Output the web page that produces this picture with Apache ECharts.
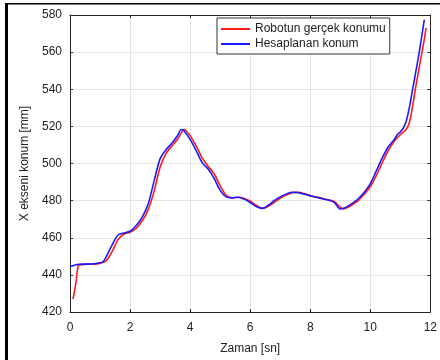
<!DOCTYPE html>
<html>
<head>
<meta charset="utf-8">
<script src="https://cdn.jsdelivr.net/npm/echarts@6/dist/echarts.min.js"></script>
<style>
html,body{margin:0;padding:0;background:#fff;}
#c{width:440px;height:360px;}
</style>
</head>
<body>
<div id="c"></div>
<script>
// Series names
var seriesNames = ['Robotun gerçek konumu', 'Hesaplanan konum'];
// Axis ticks
var xTicks = [0, 2, 4, 6, 8, 10, 12];
var yTicks = [420, 440, 460, 480, 500, 520, 540, 560, 580];
var xTitle = 'Zaman [sn]';
var yTitle = 'X ekseni konum [mm]';

// Robotun gerçek konumu (red): time [s]
var redTime = [0.1,0.2,0.28,0.4,0.6,0.8,1.0,1.2,1.4,1.6,1.8,2.0,2.2,2.4,2.6,2.8,3.0,3.2,3.4,3.6,3.8,3.9,4.0,4.2,4.4,4.6,4.8,5.0,5.2,5.4,5.6,5.8,6.0,6.2,6.4,6.6,6.8,7.0,7.2,7.4,7.6,7.8,8.0,8.2,8.4,8.6,8.8,9.0,9.1,9.2,9.4,9.6,9.8,10.0,10.2,10.4,10.6,10.8,11.0,11.2,11.3,11.4,11.5,11.6,11.7,11.8,11.86];
// Robotun gerçek konumu (red): position [mm]
var redPos = [427,436,445,445.5,445.8,445.8,446.2,447.5,452.5,459,462,463,465,469,475,485,498,505.5,509.5,513.5,518.3,517,515,509.5,503,498.5,494.5,488,483,481.5,481.8,481.2,479.8,477.5,475.8,476.8,479,481.3,483,484.3,484.5,483.8,482.8,482,481.2,480.5,479.5,476.5,475.5,476,477.8,480,483.5,487.5,493.5,500.5,507,512,515.5,518.5,522,530,540,549,558,567,573];

// Hesaplanan konum (blue): time [s]
var blueTime = [0.0,0.2,0.4,0.6,0.8,1.0,1.1,1.2,1.4,1.6,1.8,2.0,2.2,2.4,2.6,2.8,3.0,3.2,3.4,3.6,3.7,3.8,4.0,4.2,4.4,4.6,4.8,5.0,5.2,5.4,5.6,5.8,6.0,6.2,6.4,6.6,6.8,7.0,7.2,7.4,7.6,7.8,8.0,8.2,8.4,8.6,8.8,9.0,9.2,9.4,9.6,9.8,10.0,10.2,10.4,10.6,10.8,10.9,11.0,11.1,11.2,11.3,11.4,11.5,11.6,11.7,11.8];
// Hesaplanan konum (blue): position [mm]
var bluePos = [444.5,445.5,445.8,445.8,446,446.5,447,449.5,456,461.5,462.5,463.5,466.5,471,478,490.5,502.5,507.5,511,515.5,518.3,517.5,513,507,500.5,497,492,485.5,482,481.5,481.8,480.8,479,476.8,475.8,477.5,480,482,483.5,484.5,484.3,483.5,482.5,481.8,481,480.3,479,475.5,476.5,478.5,481,484.5,489,496,503,509,513,515.5,517,519,523,530,539,548,557,567,577.5];

function pairs(t, v) {
  var out = [];
  for (var i = 0; i < t.length; i++) out.push([t[i], v[i]]);
  return out;
}

var chart = echarts.init(document.getElementById('c'), null, {renderer: 'canvas'});
var FONT = '"Liberation Sans", Arial, sans-serif';
var axisCol = '#262626';
var gridCol = '#e3e3e3';

function xAx(pos, showLab) {
  return {
    type: 'value', position: pos, min: xTicks[0], max: xTicks[xTicks.length - 1], interval: 2,
    axisLine: {show: true, onZero: false, lineStyle: {color: axisCol, width: 1}},
    axisTick: {show: true, inside: true, length: 3, lineStyle: {color: axisCol}},
    axisLabel: {show: showLab, color: '#222', fontSize: 12, fontFamily: FONT, margin: 10},
    splitLine: {show: showLab, lineStyle: {color: gridCol, width: 1}},
    name: showLab ? xTitle : '', nameLocation: 'middle', nameGap: 31,
    nameTextStyle: {color: '#222', fontSize: 12, fontFamily: FONT}
  };
}
function yAx(pos, showLab) {
  return {
    type: 'value', position: pos, min: yTicks[0], max: yTicks[yTicks.length - 1], interval: 20,
    axisLine: {show: true, onZero: false, lineStyle: {color: axisCol, width: 1}},
    axisTick: {show: true, inside: true, length: 3, lineStyle: {color: axisCol}},
    axisLabel: {show: showLab, color: '#222', fontSize: 12, fontFamily: FONT, margin: 8},
    splitLine: {show: showLab, lineStyle: {color: gridCol, width: 1}},
    name: showLab ? yTitle : '', nameLocation: 'middle', nameGap: 31, nameRotate: 90,
    nameTextStyle: {color: '#222', fontSize: 12, fontFamily: FONT}
  };
}

chart.setOption({
  animation: false,
  backgroundColor: '#fff',
  grid: {left: 70, right: 7, top: 15, bottom: 45, containLabel: false},
  xAxis: [xAx('bottom', true), xAx('top', false)],
  yAxis: [yAx('left', true), yAx('right', false)],
  legend: {
    show: true, orient: 'vertical', left: 217, top: 18,
    backgroundColor: '#fff', borderColor: '#333', borderWidth: 1,
    padding: [5, 4, 4, 4], itemGap: 3, itemWidth: 29, itemHeight: 2,
    icon: 'rect',
    textStyle: {color: '#222', fontSize: 12, fontFamily: FONT, lineHeight: 12},
    data: seriesNames
  },
  graphic: [
    {type: 'rect', shape: {x: 5, y: 3, width: 435, height: 1.5}, style: {fill: '#000'}, silent: true},
    {type: 'rect', shape: {x: 5, y: 3, width: 3, height: 357}, style: {fill: '#000'}, silent: true}
  ],
  series: [
    {name: seriesNames[0], type: 'line', xAxisIndex: 0, yAxisIndex: 0, symbol: 'none', smooth: 0.3,
     lineStyle: {color: '#ff1a1a', width: 1.6}, itemStyle: {color: '#ff1a1a'},
     data: pairs(redTime, redPos), z: 2},
    {name: seriesNames[1], type: 'line', xAxisIndex: 0, yAxisIndex: 0, symbol: 'none', smooth: 0.3,
     lineStyle: {color: '#1a1aff', width: 1.6}, itemStyle: {color: '#1a1aff'},
     data: pairs(blueTime, bluePos), z: 3}
  ]
});
</script>
</body>
</html>
